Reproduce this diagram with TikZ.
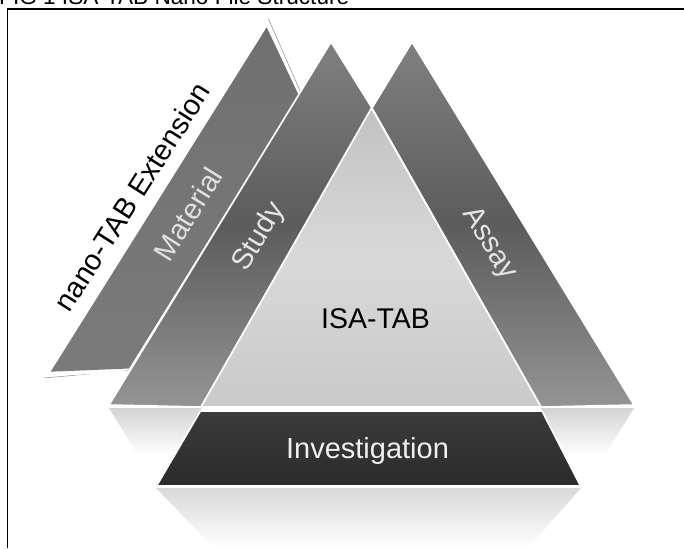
\documentclass[tikz,border=0pt]{standalone}
\usepackage{fontspec}
\setmainfont{Liberation Sans}
\begin{document}
\begin{tikzpicture}[x=1pt,y=-1pt,
  lbl/.style={inner sep=0pt, font=\fontsize{29}{34}\selectfont},
  edge/.style={draw=white, line width=1.6pt, line join=round},
  band/.style={edge, top color=black!50, bottom color=black!42, middle color=black!64}]
\useasboundingbox (0,0) rectangle (684,548);
\fill[white] (0,0) rectangle (684,548);
% reflections
\shade[top color=black!15, bottom color=white] (156,488) -- (581,488) -- (528,548) -- (214,548) -- cycle;
\shade[top color=black!17, bottom color=white] (109,408) -- (201,408) -- (201,455) -- (138,455) -- cycle;
\shade[top color=black!17, bottom color=white] (541,408) -- (634,408) -- (605,455) -- (541,455) -- cycle;
% nano-TAB extension triangle
\draw[black!45, line width=0.5pt] (268.5,19) -- (301,93);
\draw[black!45, line width=0.5pt] (44,378) -- (128,370.5);
\draw[white, line width=2pt] (267.5,23) -- (299,94);
\draw[white, line width=2pt] (47,375) -- (128,371.5);
\shade[top color=black!56, bottom color=black!52] (266.7,27.3) -- (298.6,95) -- (129,368.5) -- (50.7,371.7) -- cycle;
% study band
\shade[band] (331,42) -- (109,405) -- (201,407) -- (372,108) -- cycle;
% assay band
\shade[band] (412,42) -- (634,405) -- (541,407) -- (372,108) -- cycle;
% ISA-TAB triangle
\shade[edge, top color=black!24, bottom color=black!21, middle color=black!15] (371.5,108) -- (541,407) -- (201,407) -- cycle;
% investigation trapezoid
\shade[edge, top color=black!77, bottom color=black!83] (200.5,411) -- (542,411) -- (580.5,486) -- (156.5,486) -- cycle;
% labels
\node[lbl, text=black, rotate=57.5] (nano) at (132,197) {nano-TAB Extension};
\node[lbl, text=white!88!black, rotate=58] (mat) at (188,214) {Material};
\node[lbl, text=white!90!black, rotate=58.5] (study) at (259,237) {Study};
\node[lbl, text=white!90!black, rotate=-58.5] (assay) at (489,244) {Assay};
\node[lbl, text=black, anchor=base, font=\fontsize{28.5}{34}\selectfont] (isa) at (375.5,328.3) {ISA-TAB};
\node[lbl, text=white!94!black, anchor=base, font=\fontsize{29}{34}\selectfont] (inv) at (367.5,458.3) {Investigation};
% frame and title
\draw[black, line width=1.5pt] (7.5,548) -- (7.5,9) -- (684,9);
\node[inner sep=0pt, anchor=base west, font=\fontsize{22.6}{26}\selectfont] (title) at (-1,4.5) {FIG 1 ISA-TAB Nano File Structure};
\end{tikzpicture}
\end{document}
